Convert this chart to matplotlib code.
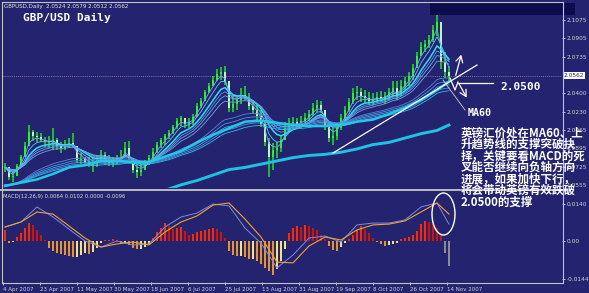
import numpy as np
import matplotlib
matplotlib.use("Agg")
import matplotlib.pyplot as plt
from matplotlib.patches import Ellipse, Rectangle

# ---------------- data ----------------
highs = [1.976,1.970,1.968,1.975,1.983,1.995,2.011,2.006,2.005,2.004,
         2.000,2.001,2.008,1.999,1.995,1.997,1.999,2.004,1.988,1.985,
         1.982,1.982,1.981,1.983,1.988,1.986,1.983,1.982,1.983,1.988,
         1.995,1.996,1.979,1.975,1.976,1.979,1.983,1.990,1.995,1.999,
         2.003,2.006,2.011,2.017,2.019,2.017,2.017,2.021,2.031,2.036,
         2.043,2.050,2.056,2.062,2.064,2.065,2.048,2.039,2.038,2.045,
         2.047,2.040,2.034,2.030,2.025,2.016,1.999,1.994,1.995,2.002,
         2.014,2.017,2.018,2.017,2.019,2.022,2.025,2.031,2.034,2.033,
         2.025,2.014,2.008,2.012,2.021,2.028,2.036,2.045,2.047,2.045,
         2.043,2.041,2.040,2.041,2.042,2.041,2.045,2.051,2.051,2.052,
         2.055,2.060,2.067,2.078,2.087,2.089,2.094,2.103,2.112,2.098,
         2.078,2.065]
lows = [1.968,1.960,1.959,1.966,1.975,1.986,2.000,1.996,1.995,1.995,
        1.991,1.990,1.988,1.988,1.985,1.988,1.990,1.991,1.976,1.975,
        1.973,1.972,1.968,1.972,1.977,1.974,1.973,1.972,1.975,1.979,
        1.983,1.979,1.967,1.962,1.964,1.970,1.974,1.979,1.985,1.990,
        1.993,1.998,2.003,2.007,2.010,2.008,2.008,2.011,2.021,2.027,
        2.034,2.040,2.047,2.051,2.052,2.048,2.023,2.023,2.025,2.030,
        2.034,2.025,2.021,2.016,2.009,1.992,1.963,1.970,1.981,1.986,
        1.999,2.005,2.008,2.008,2.008,2.012,2.015,2.019,2.023,2.022,
        2.006,1.995,1.993,1.997,2.006,2.016,2.023,2.030,2.034,2.032,
        2.030,2.029,2.029,2.031,2.032,2.030,2.034,2.037,2.034,2.039,
        2.043,2.047,2.052,2.063,2.074,2.078,2.082,2.087,2.093,2.062,
        2.054,2.051]
closes = [1.972,1.963,1.964,1.973,1.982,1.992,2.005,2.001,2.000,1.997,
          1.996,1.995,1.997,1.992,1.990,1.993,1.994,1.992,1.979,1.981,
          1.977,1.975,1.973,1.978,1.983,1.979,1.976,1.975,1.981,1.982,
          1.990,1.981,1.970,1.968,1.970,1.974,1.981,1.986,1.993,1.997,
          2.001,2.004,2.009,2.015,2.017,2.012,2.014,2.018,2.028,2.033,
          2.041,2.047,2.052,2.058,2.060,2.051,2.027,2.030,2.034,2.039,
          2.036,2.028,2.025,2.019,2.012,1.995,1.982,1.988,1.990,1.997,
          2.008,2.012,2.014,2.012,2.015,2.017,2.021,2.027,2.029,2.025,
          2.010,1.999,2.001,2.008,2.017,2.025,2.032,2.040,2.041,2.038,
          2.036,2.033,2.034,2.037,2.035,2.038,2.041,2.045,2.038,2.047,
          2.051,2.056,2.063,2.074,2.083,2.085,2.089,2.098,2.106,2.069,
          2.060,2.0562]

# MA60 and the long MA, read every 4th bar (+ last bar)
ma60 = [1.955,1.958,1.961,1.966,1.972,1.974,1.978,1.978,1.977,1.977,
        1.982,1.987,1.995,2.002,2.008,2.014,2.015,2.013,2.011,2.010,
        2.010,2.011,2.014,2.016,2.021,2.027,2.034,2.043,2.051]
ma_long = [np.nan]*8 + [1.942,1.947,1.951,1.956,1.960,1.965,1.970,1.972,1.975,
                         1.978,1.981,1.983,1.984,1.986,1.989,1.993,1.995,1.999,
                         2.003,2.006,2.011]

macd_hist = [0.0042,-0.0008,-0.0004,0.0015,0.0030,0.0049,0.0068,0.0061,0.0042,0.0023,
             0.0004,-0.0027,-0.0038,-0.0045,-0.0049,-0.0053,-0.0057,-0.0061,-0.0061,-0.0053,
             -0.0045,-0.0049,-0.0042,-0.0027,-0.0008,0.0004,0.0004,0.0008,0.0004,-0.0008,
             -0.0008,-0.0015,-0.0027,-0.0030,-0.0030,-0.0023,-0.0011,0.0011,0.0034,0.0049,
             0.0068,0.0057,0.0045,0.0049,0.0053,0.0038,0.0023,0.0027,0.0034,0.0038,
             0.0042,0.0045,0.0049,0.0045,0.0034,0.0011,-0.0038,-0.0053,-0.0057,-0.0057,
             -0.0061,-0.0068,-0.0068,-0.0076,-0.0087,-0.0102,-0.0114,-0.0129,-0.0106,-0.0076,
             -0.0030,0.0030,0.0049,0.0057,0.0053,0.0061,0.0057,0.0049,0.0042,0.0023,
             0.0008,-0.0019,-0.0034,-0.0038,-0.0023,-0.0008,0.0008,0.0023,0.0042,0.0057,
             0.0045,0.0030,0.0011,-0.0004,-0.0011,-0.0019,-0.0015,-0.0011,-0.0008,0.0008,
             0.0011,0.0015,0.0023,0.0038,0.0064,0.0076,0.0072,0.0064,0.0049,0.0023,
             -0.0045,-0.0096]
macd_main = [0.0053,0.0072,0.0129,0.0091,0.0045,0.0000,-0.0023,0.0000,-0.0015,-0.0011,
             0.0053,0.0091,0.0106,0.0140,0.0133,0.0049,-0.0008,-0.0102,-0.0053,0.0011,
             0.0019,-0.0004,0.0061,0.0068,0.0068,0.0080,0.0129,0.0144,0.0064]
macd_signal = [0.0053,0.0072,0.0110,0.0102,0.0057,0.0011,-0.0023,-0.0011,-0.0004,-0.0015,
               0.0034,0.0072,0.0095,0.0136,0.0144,0.0083,0.0015,-0.0080,-0.0083,-0.0019,
               0.0015,0.0004,0.0042,0.0061,0.0064,0.0076,0.0110,0.0144,0.0102]

date_labels = ['4 Apr 2007', '23 Apr 2007', '11 May 2007', '30 May 2007', '18 Jun 2007',
               '6 Jul 2007', '25 Jul 2007', '13 Aug 2007', '31 Aug 2007', '19 Sep 2007',
               '8 Oct 2007', '26 Oct 2007', '14 Nov 2007']
price_ticks = [2.1075, 2.0905, 2.0735, 2.0400, 2.0230, 2.0065, 1.9895, 1.9725, 1.9555]
macd_ticks = [0.0140, 0.0, -0.0144]
macd_tick_labels = ['0.0140', '0.00', '-0.0144']
header = 'GBPUSD,Daily  2.0524 2.0579 2.0512 2.0562'
macd_header = 'MACD(12,26,9) 0.0064 0.0102 0.0000 -0.0096'
note_lines = ['英镑汇价处在MA60、上', '升趋势线的支撑突破抉', '择，关键要看MACD的死',
              '叉能否继续向负轴方向', '进展，如果加快下行，', '将会带动英镑有效跌破', '2.0500的支撑']

# ---------------- figure ----------------
BG = '#23236f'
LBL = '#d4d4d4'
W, H = 589, 293
fig = plt.figure(figsize=(W / 100, H / 100), dpi=100)
fig.patch.set_facecolor(BG)

def px_axes(l, t, r, b, **kw):
    return fig.add_axes([l / W, 1 - b / H, (r - l) / W, (b - t) / H], **kw)

ax = px_axes(3, 3, 562, 188)
axm = px_axes(3, 192, 562, 282)
for a in (ax, axm):
    a.set_facecolor(BG)
    for s in a.spines.values():
        s.set_visible(False)
    a.set_xlim(-0.5, 139.25)

closes = np.array(closes); highs = np.array(highs); lows = np.array(lows)
n = len(closes)
x = np.arange(n)
sx = np.r_[np.arange(0, n, 4), n - 1]

# candles
opens = np.r_[closes[0], closes[:-1]]
up = closes >= opens
blo = np.minimum(opens, closes)
bh = np.maximum(np.abs(closes - opens), 0.0004)
ax.vlines(x, lows, highs, color='#1ee61e', lw=1.1, zorder=3)
ax.bar(x[up], bh[up], bottom=blo[up], width=0.6, color='#26f226', lw=0, zorder=3)
ax.bar(x[~up], bh[~up], bottom=blo[~up], width=0.6, color='#b8f8b8', lw=0, zorder=3)

# guppy-style fan of EMAs of the closes
def ema(vals, span, seed):
    a = 2.0 / (span + 1)
    e = seed
    out = []
    for v in vals:
        e += a * (v - e)
        out.append(e)
    return np.array(out)

short_spans = [3, 5, 8, 10, 12, 15]
short_cols = ['#7fa6f0', '#5cc8f2', '#30dcf4', '#6a90e2', '#54b4ea', '#7e9ce6']
for sp, c in zip(short_spans, short_cols):
    ax.plot(x, ema(closes, sp, closes[0]), color=c, lw=1.1 if sp == 8 else 0.6, zorder=4)
long_spans = [30, 35, 40, 45, 50]
long_cols = ['#5a84dc', '#4a98e0', '#3ab0e0', '#5a8ce0', '#30bce4']
for sp, c in zip(long_spans, long_cols):
    ax.plot(x, ema(closes, sp, ma60[0]), color=c, lw=0.6, zorder=4)

ax.plot(sx, ma60, color='#22c8e8', lw=1.8, zorder=5)
ax.plot(sx, ma_long, color='#1ec2e4', lw=2.1, zorder=5)
ax.axhline(closes[-1], color='#b090a8', lw=0.6, ls=(0, (1, 1.5)), zorder=2)
ax.set_ylim(1.9531, 2.1231)

ax.set_xticks([])
ax.yaxis.tick_right()
ax.set_yticks(price_ticks)
ax.set_yticklabels([f'{v:.4f}' for v in price_ticks])
ax.tick_params(axis='y', length=2, width=0.6, colors=LBL, labelsize=4.2, pad=1.5)
ax.text(1.003, closes[-1], f'{closes[-1]:.4f}', transform=ax.get_yaxis_transform(),
        fontsize=4.2, color=BG, va='center', ha='left',
        bbox=dict(fc='white', ec='none', pad=0.7), zorder=10, clip_on=False)

# MACD panel
hist = np.array(macd_hist)
prev = np.r_[hist[0], hist[:-1]]
cols = np.where(hist >= 0, np.where(hist >= prev, '#ff2800', '#d81000'),
                np.where(hist < prev, '#e8922a', '#f4e27a')).astype(object)
cols[-2:] = '#8c8c8c'
axm.bar(x, hist, width=0.7, color=list(cols), lw=0, zorder=3)
axm.plot(sx, macd_main, color='#7c8cd8', lw=0.7, zorder=4)
axm.plot(sx, macd_signal, color='#f0a232', lw=0.8, zorder=5)
axm.set_ylim(-0.01554, 0.01857)
axm.yaxis.tick_right()
axm.set_yticks(macd_ticks)
axm.set_yticklabels(macd_tick_labels)
axm.tick_params(axis='y', length=2, width=0.6, colors=LBL, labelsize=4.2, pad=1.5)
axm.set_xticks(-0.5 + 9.25 * np.arange(len(date_labels)))
axm.set_xticklabels(date_labels)
for t in axm.get_xticklabels():
    t.set_ha('left')
axm.tick_params(axis='x', length=2.5, width=0.6, colors=LBL, labelsize=4.0, pad=1.2)

# ---------------- overlay (pixel coordinates) ----------------
ov = fig.add_axes([0, 0, 1, 1], zorder=10)
ov.set_xlim(0, W); ov.set_ylim(H, 0); ov.axis('off'); ov.patch.set_alpha(0)

fr = '#c4c4c4'
ov.plot([2, 562.5], [1.5, 1.5], color=fr, lw=0.8)
ov.plot([1.8, 1.8], [1.5, 282.5], color=fr, lw=0.8)
ov.plot([562.5, 562.5], [1.5, 282.5], color=fr, lw=0.8)
ov.plot([0, 566], [190, 190], color='#bcbcbc', lw=1.4)
ov.plot([1.8, 562.5], [282.5, 282.5], color=fr, lw=0.8)
ov.add_patch(Rectangle((430, 3), 145, 12, fc='#0c0c4c', ec='none'))

ov.text(4, 6.5, header, fontsize=4.0, color='#e6e6e6', va='center', ha='left')
ov.text(23, 17.5, 'GBP/USD Daily', family='DejaVu Sans Mono', weight='bold',
        fontsize=8, color='white', va='center', ha='left')
ov.text(3, 196.5, macd_header, fontsize=3.8, color='#dcdcdc', va='center', ha='left')

# trendline and annotation marks
ov.plot([333, 477], [153, 65], color='white', lw=0.9)
ov.plot([458, 493], [83, 83], color='white', lw=0.9)
ov.text(500, 86.5, '2.0500', family='DejaVu Sans Mono', weight='bold', fontsize=8,
        color='white', va='center', ha='left')
ov.plot([443, 465], [80, 110], color='#cfcfcf', lw=0.6)
ov.text(468, 113.5, 'MA60', family='DejaVu Sans Mono', weight='bold', fontsize=7.2,
        color='white', va='center', ha='left')
ov.annotate('', xy=(462, 52), xytext=(455, 78),
            arrowprops=dict(arrowstyle='->,head_length=0.45,head_width=0.25',
                            color='white', lw=0.9))
ov.plot([450, 455, 458], [78, 90, 82], color='white', lw=0.9)
ov.annotate('', xy=(468, 100), xytext=(458, 82),
            arrowprops=dict(arrowstyle='->,head_length=0.45,head_width=0.25',
                            color='white', lw=0.9))
ov.add_patch(Ellipse((443.5, 214), 23, 42, fill=False, ec='white', lw=1.0))

ys = [133, 144.5, 156, 167.5, 179, 190.5, 202]
for yy, line in zip(ys, note_lines):
    ov.text(461, yy, line, family=['Noto Sans CJK SC', 'DejaVu Sans'], weight='bold',
            fontsize=8.3, color='white', va='center', ha='left')

fig.savefig('out.png', dpi=100, facecolor=BG)
